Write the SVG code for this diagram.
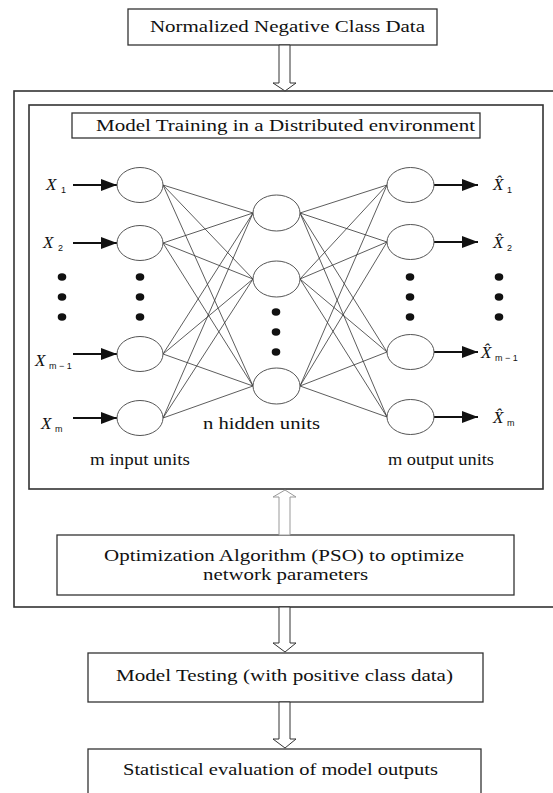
<svg xmlns="http://www.w3.org/2000/svg" width="553" height="793" viewBox="0 0 553 793">
<defs>
<style>
.box{fill:#fff;stroke:#333;stroke-width:1.3}
.frame{fill:none;stroke:#333;stroke-width:1.6}
.t{font-family:"Liberation Serif","Times New Roman",serif;font-size:17px;fill:#111}
.x{font-family:"Liberation Serif","Times New Roman",serif;font-style:italic;font-size:17px;fill:#111}
.s{font-family:"Liberation Sans",Arial,sans-serif;font-size:9px;fill:#111}
.unit{fill:#fff;stroke:#555;stroke-width:1}
.w{stroke:#333;stroke-width:0.8;fill:none}
.dot{fill:#111}
.harrow{fill:#fff;stroke:#333;stroke-width:1}
.io{stroke:#111;stroke-width:2;fill:none}
</style>
<marker id="ah" markerWidth="8" markerHeight="6" refX="8" refY="3" orient="auto" markerUnits="strokeWidth">
<path d="M0,0 L8,3 L0,6 Z" fill="#111"/>
</marker>
</defs>
<rect x="0" y="0" width="553" height="793" fill="#fff"/>

<g id="frames">
<rect class="frame" x="14" y="91" width="560" height="516"/>
<rect class="frame" x="29" y="105" width="514" height="384"/>
</g>

<g id="n-normalized">
<rect class="box" x="128" y="9" width="309" height="36"/>
<text class="t" x="150" y="32" textLength="275" lengthAdjust="spacingAndGlyphs">Normalized Negative Class Data</text>
</g>

<g id="n-title">
<rect class="box" x="72" y="113" width="408" height="25"/>
<text class="t" x="96" y="131" textLength="379" lengthAdjust="spacingAndGlyphs">Model Training in a Distributed environment</text>
</g>

<g id="n-pso">
<rect class="box" x="57" y="535" width="457" height="60"/>
<text class="t" x="104" y="561" textLength="360" lengthAdjust="spacingAndGlyphs">Optimization Algorithm (PSO) to optimize</text>
<text class="t" x="203" y="580" textLength="165" lengthAdjust="spacingAndGlyphs">network parameters</text>
</g>

<g id="n-testing">
<rect class="box" x="88" y="653" width="395" height="49"/>
<text class="t" x="116" y="681" textLength="337" lengthAdjust="spacingAndGlyphs">Model Testing (with positive class data)</text>
</g>

<g id="n-stat">
<rect class="box" x="88" y="749" width="393" height="60"/>
<text class="t" x="123" y="775" textLength="315" lengthAdjust="spacingAndGlyphs">Statistical evaluation of model outputs</text>
</g>

<g id="connectors">
<polygon class="harrow" points="279,45 290,45 290,83 296,83 285,91 273,83 279,83"/>
<polygon class="harrow" points="279,607 290,607 290,643 296,643 285,652 273,643 279,643"/>
<polygon class="harrow" points="279,702 290,702 290,739 296,739 285,748 273,739 279,739"/>
<polygon class="harrow" style="stroke:#999" points="285,490 296,497 290,497 290,535 279,535 279,497 273,497"/>

<line class="w" x1="163" y1="185" x2="253" y2="213"/>
<line class="w" x1="163" y1="185" x2="253" y2="279"/>
<line class="w" x1="163" y1="185" x2="253" y2="386"/>
<line class="w" x1="163" y1="243" x2="253" y2="213"/>
<line class="w" x1="163" y1="243" x2="253" y2="279"/>
<line class="w" x1="163" y1="243" x2="253" y2="386"/>
<line class="w" x1="163" y1="354" x2="253" y2="213"/>
<line class="w" x1="163" y1="354" x2="253" y2="279"/>
<line class="w" x1="163" y1="354" x2="253" y2="386"/>
<line class="w" x1="163" y1="418" x2="253" y2="213"/>
<line class="w" x1="163" y1="418" x2="253" y2="279"/>
<line class="w" x1="163" y1="418" x2="253" y2="386"/>
<line class="w" x1="300" y1="213" x2="387" y2="185"/>
<line class="w" x1="300" y1="213" x2="387" y2="242"/>
<line class="w" x1="300" y1="213" x2="387" y2="352"/>
<line class="w" x1="300" y1="213" x2="387" y2="417"/>
<line class="w" x1="300" y1="279" x2="387" y2="185"/>
<line class="w" x1="300" y1="279" x2="387" y2="242"/>
<line class="w" x1="300" y1="279" x2="387" y2="352"/>
<line class="w" x1="300" y1="279" x2="387" y2="417"/>
<line class="w" x1="300" y1="386" x2="387" y2="185"/>
<line class="w" x1="300" y1="386" x2="387" y2="242"/>
<line class="w" x1="300" y1="386" x2="387" y2="352"/>
<line class="w" x1="300" y1="386" x2="387" y2="417"/>

<line class="io" x1="73" y1="185" x2="117" y2="185" marker-end="url(#ah)"/>
<line class="io" x1="73" y1="243" x2="117" y2="243" marker-end="url(#ah)"/>
<line class="io" x1="73" y1="354" x2="117" y2="354" marker-end="url(#ah)"/>
<line class="io" x1="73" y1="418" x2="117" y2="418" marker-end="url(#ah)"/>
<line class="io" x1="434" y1="185" x2="478" y2="185" marker-end="url(#ah)"/>
<line class="io" x1="434" y1="242" x2="478" y2="242" marker-end="url(#ah)"/>
<line class="io" x1="434" y1="352" x2="478" y2="352" marker-end="url(#ah)"/>
<line class="io" x1="434" y1="417" x2="478" y2="417" marker-end="url(#ah)"/>
</g>

<g id="n-input">
<ellipse class="unit" cx="140" cy="185" rx="23" ry="17.5"/>
<ellipse class="unit" cx="140" cy="243" rx="23" ry="17.5"/>
<ellipse class="unit" cx="140" cy="354" rx="23" ry="17.5"/>
<ellipse class="unit" cx="140" cy="418" rx="23" ry="17.5"/>
</g>
<g id="n-hidden">
<ellipse class="unit" cx="276.5" cy="213" rx="23.5" ry="18"/>
<ellipse class="unit" cx="276.5" cy="279" rx="23.5" ry="18"/>
<ellipse class="unit" cx="276.5" cy="386" rx="23.5" ry="18"/>
</g>
<g id="n-output">
<ellipse class="unit" cx="410.5" cy="185" rx="23.5" ry="17.5"/>
<ellipse class="unit" cx="410.5" cy="242" rx="23.5" ry="17.5"/>
<ellipse class="unit" cx="410.5" cy="352" rx="23.5" ry="17.5"/>
<ellipse class="unit" cx="410.5" cy="417" rx="23.5" ry="17.5"/>
</g>

<g id="dots">
<ellipse class="dot" cx="62" cy="277" rx="4.3" ry="3.7"/>
<ellipse class="dot" cx="62" cy="297" rx="4.3" ry="3.7"/>
<ellipse class="dot" cx="62" cy="317" rx="4.3" ry="3.7"/>
<ellipse class="dot" cx="140" cy="277" rx="4.3" ry="3.7"/>
<ellipse class="dot" cx="140" cy="297" rx="4.3" ry="3.7"/>
<ellipse class="dot" cx="140" cy="317" rx="4.3" ry="3.7"/>
<ellipse class="dot" cx="276" cy="312" rx="4.3" ry="3.7"/>
<ellipse class="dot" cx="276" cy="332" rx="4.3" ry="3.7"/>
<ellipse class="dot" cx="276" cy="352" rx="4.3" ry="3.7"/>
<ellipse class="dot" cx="410" cy="277" rx="4.3" ry="3.7"/>
<ellipse class="dot" cx="410" cy="297" rx="4.3" ry="3.7"/>
<ellipse class="dot" cx="410" cy="317" rx="4.3" ry="3.7"/>
<ellipse class="dot" cx="499" cy="277" rx="4.3" ry="3.7"/>
<ellipse class="dot" cx="499" cy="297" rx="4.3" ry="3.7"/>
<ellipse class="dot" cx="499" cy="317" rx="4.3" ry="3.7"/>
</g>

<g id="labels">
<text class="x" x="46" y="190">X</text><text class="s" x="61" y="193">1</text>
<text class="x" x="43" y="248">X</text><text class="s" x="58" y="251">2</text>
<text class="x" x="35" y="366">X</text><text class="s" x="49" y="369">m − 1</text>
<text class="x" x="41" y="429">X</text><text class="s" x="55" y="432">m</text>

<text class="x" x="493" y="190">X̂</text><text class="s" x="507" y="193">1</text>
<text class="x" x="493" y="248">X̂</text><text class="s" x="507" y="251">2</text>
<text class="x" x="481" y="358">X̂</text><text class="s" x="495" y="361">m − 1</text>
<text class="x" x="493" y="423">X̂</text><text class="s" x="507" y="426">m</text>

<text class="t" x="203" y="429" textLength="117" lengthAdjust="spacingAndGlyphs">n hidden units</text>
<text class="t" x="90" y="465" textLength="100" lengthAdjust="spacingAndGlyphs">m input units</text>
<text class="t" x="388" y="465" textLength="106" lengthAdjust="spacingAndGlyphs">m output units</text>
</g>
</svg>
